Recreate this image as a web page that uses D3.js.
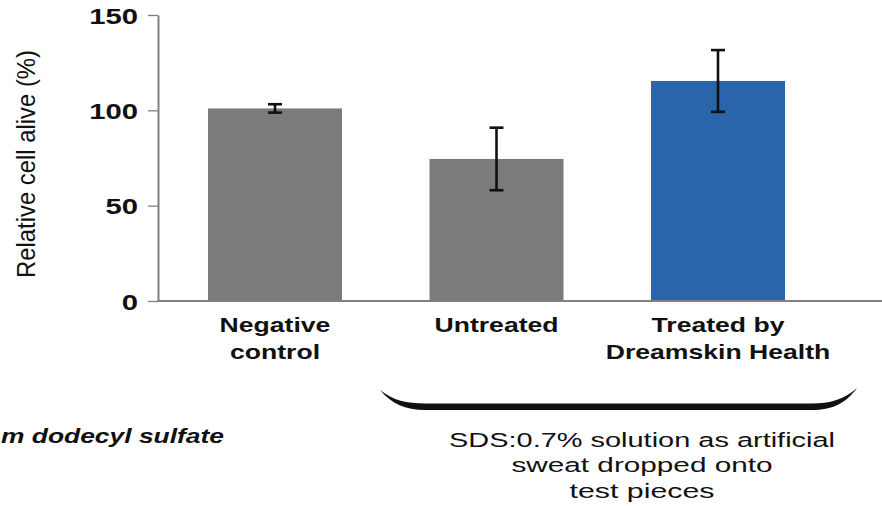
<!DOCTYPE html>
<html>
<head>
<meta charset="utf-8">
<script src="https://cdn.jsdelivr.net/npm/d3@7"></script>
<style>
  html, body { margin: 0; padding: 0; background: #fff; }
  svg { display: block; font-family: "Liberation Sans", Arial, sans-serif; }
</style>
</head>
<body>
<svg id="chart" width="882" height="506"></svg>
<script>
// ---- data ----
const categories = ["Negative control", "Untreated", "Treated by Dreamskin Health"];
const labelLines = [["Negative", "control"], ["Untreated"], ["Treated by", "Dreamskin Health"]];
const values = [101, 74.5, 115.4];
const errors = [2.2, 16.4, 16.2];
const barColors = ["#7b7b7d", "#7b7b7d", "#2a65ab"];
const yTicks = [0, 50, 100, 150];
const yTitle = "Relative cell alive (%)";
const footnoteLeft = "m dodecyl sulfate";
const braceNote = ["SDS:0.7% solution as artificial", "sweat dropped onto", "test pieces"];

// ---- layout ----
const svg = d3.select("#chart");
const SX = 1.3; // horizontal stretch of the original picture
const axisX = 158;

const y = d3.scaleLinear().domain([0, 150]).range([301, 15]);
const x = d3.scaleBand().domain(categories)
  .range([163.7, 829.3]).paddingInner(0.395).paddingOuter(0.2);

// y axis
const yAxis = d3.axisLeft(y).tickValues(yTicks).tickSize(10).tickSizeOuter(0).tickPadding(10);
const gy = svg.append("g").attr("transform", `translate(${axisX},0)`).call(yAxis);
gy.select(".domain").attr("stroke", "#808080").attr("stroke-width", 2);
gy.selectAll(".tick line").attr("stroke", "#808080").attr("stroke-width", 1.3);
gy.selectAll(".tick text")
  .attr("fill", "#111")
  .attr("font-size", 22.5)
  .attr("font-weight", "bold")
  .attr("font-family", "Liberation Sans, Arial, sans-serif")
  .attr("x", -20 / SX)
  .attr("dy", "0.36em")
  .attr("transform", `scale(${SX},1)`);

// bars
svg.append("g").selectAll("rect").data(categories).join("rect")
  .attr("x", d => x(d))
  .attr("width", x.bandwidth())
  .attr("y", (d, i) => y(values[i]))
  .attr("height", (d, i) => y(0) - y(values[i]))
  .attr("fill", (d, i) => barColors[i]);

// baseline
svg.append("line")
  .attr("x1", axisX - 1).attr("x2", 882)
  .attr("y1", y(0)).attr("y2", y(0))
  .attr("stroke", "#808080").attr("stroke-width", 2);

// error bars
const eg = svg.append("g").attr("stroke", "#111").attr("stroke-width", 2.6);
categories.forEach((c, i) => {
  const cx = x(c) + x.bandwidth() / 2;
  const hi = y(values[i] + errors[i]), lo = y(values[i] - errors[i]);
  eg.append("line").attr("x1", cx).attr("x2", cx).attr("y1", hi).attr("y2", lo);
  eg.append("line").attr("x1", cx - 7).attr("x2", cx + 7).attr("y1", hi).attr("y2", hi);
  eg.append("line").attr("x1", cx - 7).attr("x2", cx + 7).attr("y1", lo).attr("y2", lo);
});

// category labels
const baselines = [332, 359];
categories.forEach((c, i) => {
  const cx = x(c) + x.bandwidth() / 2;
  labelLines[i].forEach((t, j) => {
    svg.append("text")
      .attr("transform", `translate(${cx},${baselines[j]}) scale(1.33,1)`)
      .attr("text-anchor", "middle")
      .attr("font-size", 20)
      .attr("font-weight", "bold")
      .attr("fill", "#111")
      .text(t);
  });
});

// y title
svg.append("text")
  .attr("transform", `translate(35,164) scale(1.33,1) rotate(-90)`)
  .attr("text-anchor", "middle")
  .attr("font-size", 19)
  .attr("textLength", 228)
  .attr("lengthAdjust", "spacingAndGlyphs")
  .attr("fill", "#111")
  .text(yTitle);

// brace under the two SDS groups
const b0 = 380, b1 = 857;
const brace = d3.path();
brace.moveTo(b0, 390);
brace.bezierCurveTo(b0 + 12, 404, b0 + 25, 410, b0 + 45, 410);
brace.lineTo(b1 - 45, 410);
brace.bezierCurveTo(b1 - 25, 410, b1 - 12, 404, b1, 388);
brace.bezierCurveTo(b1 - 13, 399.5, b1 - 27, 403.5, b1 - 45, 403.5);
brace.lineTo(b0 + 45, 403.5);
brace.bezierCurveTo(b0 + 27, 403.5, b0 + 13, 400.5, b0, 390);
brace.closePath();
svg.append("path").attr("d", brace.toString()).attr("fill", "#111");

// left footnote (cut at the picture edge)
svg.append("text")
  .attr("x", 1).attr("y", 443)
  .attr("font-size", 21)
  .attr("font-weight", "bold")
  .attr("font-style", "italic")
  .attr("textLength", 223)
  .attr("lengthAdjust", "spacingAndGlyphs")
  .attr("fill", "#111")
  .text(footnoteLeft);

// note under the brace
const noteLens = [386, 261, 145];
const noteBase = [447, 472, 498];
braceNote.forEach((t, i) => {
  svg.append("text")
    .attr("x", 642).attr("y", noteBase[i])
    .attr("text-anchor", "middle")
    .attr("font-size", 20.5)
    .attr("textLength", noteLens[i])
    .attr("lengthAdjust", "spacingAndGlyphs")
    .attr("fill", "#111")
    .text(t);
});
</script>
</body>
</html>
